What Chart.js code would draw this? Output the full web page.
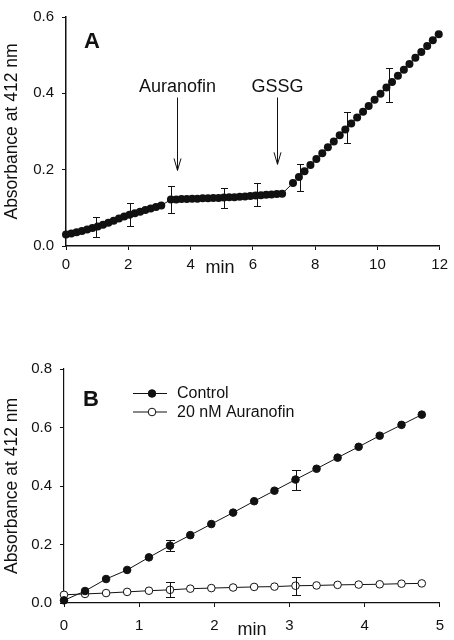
<!DOCTYPE html>
<html>
<head>
<meta charset="utf-8">
<script src="https://cdn.jsdelivr.net/npm/chart.js@4.4.0/dist/chart.umd.min.js"></script>
<style>
  html, body { margin: 0; padding: 0; background: #fff; }
  #wrap { position: relative; width: 454px; height: 640px; }
  #chartA { position: absolute; left: 0; top: 0; }
  #chartB { position: absolute; left: 0; top: 320px; }
</style>
</head>
<body>
<div id="wrap">
  <canvas id="chartA" width="454" height="300"></canvas>
  <canvas id="chartB" width="454" height="320"></canvas>
</div>
<script>
// ---- panel A: absorbance vs time, Auranofin then GSSG added ----
const timeA = [
  0, 0.17, 0.34, 0.51, 0.68, 0.85, 1.02, 1.19, 1.36, 1.53, 1.70, 1.87, 2.04, 2.21, 2.38, 2.55, 2.72, 2.89, 3.06,
  3.37, 3.54, 3.71, 3.88, 4.05, 4.22, 4.39, 4.56, 4.73, 4.90, 5.07, 5.24, 5.41, 5.58, 5.75, 5.92, 6.09, 6.26, 6.43, 6.60, 6.77, 6.94,
  7.29, 7.48, 7.66, 7.85, 8.04, 8.23, 8.41, 8.60, 8.79, 8.97, 9.16, 9.35, 9.54, 9.72, 9.91, 10.10, 10.29, 10.47, 10.66, 10.85, 11.03, 11.22, 11.41, 11.60, 11.78, 11.97
];
const absA = [
  0.030, 0.033, 0.036, 0.039, 0.043, 0.047, 0.051, 0.056, 0.061, 0.066, 0.072, 0.077, 0.082, 0.086, 0.090, 0.094, 0.098, 0.102, 0.106,
  0.122, 0.122, 0.123, 0.123, 0.124, 0.124, 0.125, 0.125, 0.126, 0.126, 0.127, 0.128, 0.128, 0.129, 0.130, 0.131, 0.132, 0.133, 0.134, 0.135, 0.136, 0.137,
  0.165, 0.181, 0.196, 0.212, 0.228, 0.243, 0.259, 0.274, 0.290, 0.305, 0.321, 0.337, 0.352, 0.367, 0.383, 0.399, 0.415, 0.430, 0.446, 0.462, 0.477, 0.493, 0.508, 0.524, 0.539, 0.555
];
const errTimeA = [0.95, 2.04, 3.37, 5.08, 6.15, 7.50, 9.01, 10.37];
const errLowA  = [0.024, 0.053, 0.086, 0.100, 0.104, 0.145, 0.271, 0.377];
const errHighA = [0.075, 0.112, 0.157, 0.151, 0.164, 0.214, 0.352, 0.467];
const addLabelsA = ['Auranofin', 'GSSG'];
const addTimesA = [3.57, 6.79];
const xTicksA = [0, 2, 4, 6, 8, 10, 12];
const yTicksA = [0, 0.2, 0.4, 0.6];

// ---- panel B: control vs 20 nM Auranofin ----
const timeB = [0, 0.28, 0.56, 0.84, 1.13, 1.41, 1.68, 1.96, 2.25, 2.53, 2.80, 3.08, 3.36, 3.64, 3.92, 4.20, 4.49, 4.76];
const controlB = [0.009, 0.041, 0.082, 0.113, 0.156, 0.196, 0.232, 0.270, 0.309, 0.348, 0.384, 0.422, 0.459, 0.497, 0.534, 0.572, 0.609, 0.644];
const auranofinB = [0.028, 0.031, 0.034, 0.038, 0.042, 0.045, 0.049, 0.051, 0.053, 0.055, 0.056, 0.059, 0.060, 0.062, 0.063, 0.064, 0.066, 0.067];
const errTimeB = [1.41, 3.08];
const errLowControlB = [0.177, 0.385];
const errHighControlB = [0.217, 0.456];
const errLowAuranofinB = [0.019, 0.026];
const errHighAuranofinB = [0.071, 0.088];
const seriesNamesB = ['Control', '20 nM Auranofin'];
const xTicksB = [0, 1, 2, 3, 4, 5];
const yTicksB = [0, 0.2, 0.4, 0.6, 0.8];

const INK = '#111';
Chart.defaults.font.family = '"Liberation Sans", Arial, sans-serif';
Chart.defaults.color = INK;

const toPts = (xs, ys) => xs.map((x, i) => ({ x: x, y: ys[i] }));

// vertical error bars with small caps
const errorBars = {
  id: 'errorBars',
  afterDatasetsDraw(chart, args, opts) {
    const { ctx, scales: { x, y } } = chart;
    ctx.save();
    ctx.strokeStyle = INK;
    ctx.lineWidth = 1;
    (opts.sets || []).forEach(s => {
      s.t.forEach((t, i) => {
        const px = Math.round(x.getPixelForValue(t)) + 0.5;
        const top = Math.round(y.getPixelForValue(s.hi[i])) + 0.5;
        const bot = Math.round(y.getPixelForValue(s.lo[i])) + 0.5;
        ctx.beginPath();
        ctx.moveTo(px, top); ctx.lineTo(px, bot);
        ctx.moveTo(px - opts.cap, top); ctx.lineTo(px + opts.cap, top);
        ctx.moveTo(px - opts.cap, bot); ctx.lineTo(px + opts.cap, bot);
        ctx.stroke();
      });
    });
    ctx.restore();
  }
};

// panel letter, "min" axis label, addition arrows, legend
const decor = {
  id: 'decor',
  afterDraw(chart, args, o) {
    const { ctx, chartArea: ca, scales: { x, y } } = chart;
    ctx.save();
    ctx.fillStyle = INK;
    ctx.strokeStyle = INK;
    ctx.lineWidth = 1;

    ctx.font = 'bold 22px "Liberation Sans", Arial, sans-serif';
    ctx.textAlign = 'center';
    ctx.textBaseline = 'middle';
    ctx.fillText(o.letter, ca.left + o.letterPos[0], ca.top + o.letterPos[1]);

    ctx.font = '18px "Liberation Sans", Arial, sans-serif';
    ctx.textBaseline = 'alphabetic';
    ctx.fillText('min', o.minPos[0], o.minPos[1]);

    (o.arrows || []).forEach(a => {
      const ax = Math.round(x.getPixelForValue(a.t)) + 0.5;
      const y0 = y.getPixelForValue(a.from);
      const y1 = y.getPixelForValue(a.to);
      ctx.font = '18px "Liberation Sans", Arial, sans-serif';
      ctx.fillText(a.label, ax, y0 - 6);
      ctx.beginPath();
      ctx.moveTo(ax, y0); ctx.lineTo(ax, y1);
      ctx.moveTo(ax - 3.5, y1 - 12); ctx.lineTo(ax, y1); ctx.lineTo(ax + 3.5, y1 - 12);
      ctx.stroke();
    });

    if (o.legend) {
      ctx.font = '16px "Liberation Sans", Arial, sans-serif';
      ctx.textAlign = 'left';
      ctx.textBaseline = 'middle';
      chart.data.datasets.forEach((ds, i) => {
        const lx = ca.left + o.legend.x;
        const ly = ca.top + o.legend.y + i * o.legend.gap;
        ctx.beginPath();
        ctx.moveTo(lx, ly + 0.5); ctx.lineTo(lx + 34, ly + 0.5);
        ctx.stroke();
        ctx.beginPath();
        ctx.arc(lx + 19, ly + 0.5, ds.pointRadius, 0, Math.PI * 2);
        ctx.fillStyle = ds.pointBackgroundColor;
        ctx.fill();
        ctx.stroke();
        ctx.fillStyle = INK;
        ctx.fillText(ds.label, lx + 44, ly + 1);
      });
    }
    ctx.restore();
  }
};

function axes(xMin, xMax, xTicks, yMin, yMax, yTicks, yWidth, xHeight, xPad, lineW) {
  return {
    x: {
      type: 'linear', min: xMin, max: xMax,
      afterBuildTicks: s => { s.ticks = xTicks.map(v => ({ value: v })); },
      afterFit: s => { s.height = xHeight; },
      grid: { drawOnChartArea: false, drawTicks: true, tickLength: 4, color: INK },
      border: { color: INK, width: lineW },
      ticks: { color: INK, font: { size: 15 }, padding: xPad, maxRotation: 0, callback: v => String(v) }
    },
    y: {
      type: 'linear', min: yMin, max: yMax,
      afterBuildTicks: s => { s.ticks = yTicks.map(v => ({ value: v })); },
      afterFit: s => { s.width = yWidth; },
      grid: { drawOnChartArea: false, drawTicks: true, tickLength: 4, color: INK },
      border: { color: INK, width: lineW },
      ticks: { color: INK, font: { size: 15 }, padding: 8, callback: v => v.toFixed(1) },
      title: { display: true, text: 'Absorbance at 412 nm', color: INK, font: { size: 17.5 }, padding: { top: 2, bottom: 0 } }
    }
  };
}

new Chart(document.getElementById('chartA'), {
  type: 'line',
  data: {
    datasets: [{
      label: 'Absorbance',
      data: toPts(timeA, absA),
      borderColor: INK, borderWidth: 1,
      pointRadius: 4, pointBackgroundColor: INK, pointBorderWidth: 0,
      tension: 0, clip: false
    }]
  },
  options: {
    responsive: false, animation: false,
    layout: { padding: { left: 0, right: 11, top: 10, bottom: 0 } },
    scales: axes(0, 12, xTicksA, 0, 0.6, yTicksA, 66, 54, 6, 1.5),
    plugins: {
      legend: { display: false }, tooltip: { enabled: false },
      errorBars: { cap: 3.5, sets: [{ t: errTimeA, lo: errLowA, hi: errHighA }] },
      decor: {
        letter: 'A', letterPos: [26, 25], minPos: [220, 273],
        arrows: addLabelsA.map((l, i) => ({ label: l, t: addTimesA[i], from: 0.389, to: i === 0 ? 0.198 : 0.214 }))
      }
    }
  },
  plugins: [errorBars, decor]
});

new Chart(document.getElementById('chartB'), {
  type: 'line',
  data: {
    datasets: [{
      label: seriesNamesB[0],
      data: toPts(timeB, controlB),
      borderColor: INK, borderWidth: 1,
      pointRadius: 3.8, pointBackgroundColor: INK, pointBorderColor: INK, pointBorderWidth: 1,
      tension: 0, clip: false
    }, {
      label: seriesNamesB[1],
      data: toPts(timeB, auranofinB),
      borderColor: INK, borderWidth: 1,
      pointRadius: 3.8, pointBackgroundColor: '#fff', pointBorderColor: INK, pointBorderWidth: 1,
      tension: 0, clip: false
    }]
  },
  options: {
    responsive: false, animation: false,
    layout: { padding: { left: 0, right: 11, top: 49, bottom: 0 } },
    scales: axes(0, 5, xTicksB, 0, 0.8, yTicksB, 64, 37, 10, 1.2),
    plugins: {
      legend: { display: false }, tooltip: { enabled: false },
      errorBars: {
        cap: 4.5,
        sets: [
          { t: errTimeB, lo: errLowControlB, hi: errHighControlB },
          { t: errTimeB, lo: errLowAuranofinB, hi: errHighAuranofinB }
        ]
      },
      decor: { letter: 'B', letterPos: [27, 31], minPos: [252, 315], legend: { x: 69, y: 24, gap: 18.5 } }
    }
  },
  plugins: [errorBars, decor]
});
</script>
</body>
</html>
